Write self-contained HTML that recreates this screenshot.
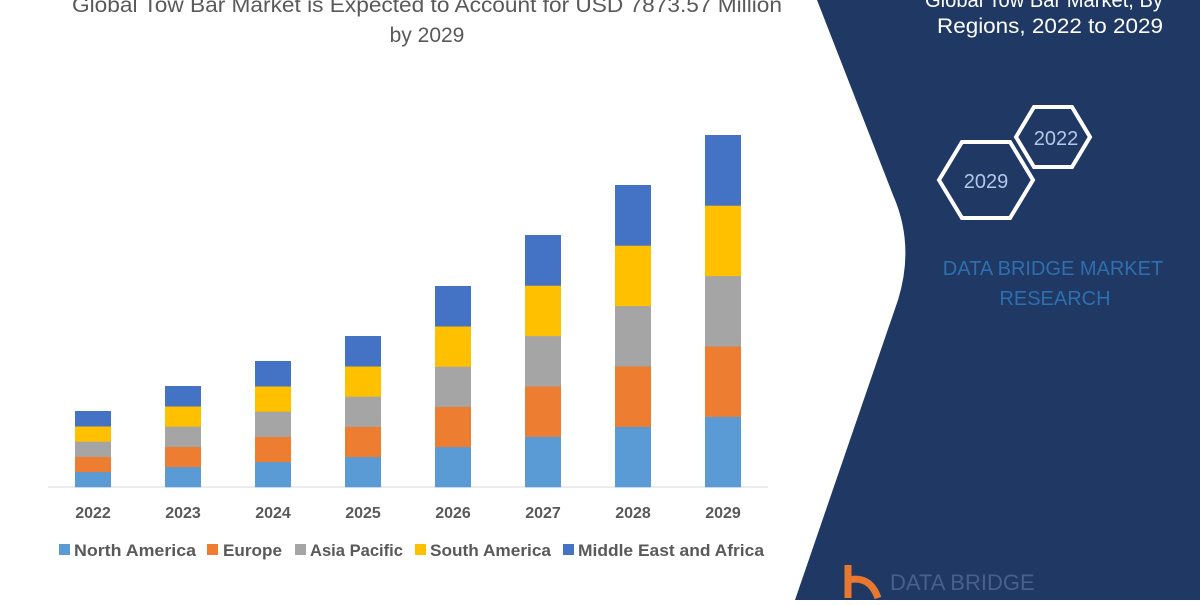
<!DOCTYPE html>
<html><head><meta charset="utf-8"><style>
body{margin:0;width:1200px;height:600px;overflow:hidden;background:#fff;font-family:"Liberation Sans",sans-serif}
</style></head><body>
<svg width="1200" height="600" xmlns="http://www.w3.org/2000/svg" font-family="Liberation Sans, sans-serif">
<rect width="1200" height="600" fill="#fff"/>
<path d="M817,0 L893,195 Q915,245 898,300 L795,600 L1200,600 L1200,0 Z" fill="#1f3864"/>
<g fill="#595959" font-size="21" text-anchor="middle">
<text x="427" y="12" textLength="710" lengthAdjust="spacingAndGlyphs">Global Tow Bar Market is Expected to Account for USD 7873.57 Million</text>
<text x="427" y="42">by 2029</text>
</g>
<g fill="#fff" font-size="21" text-anchor="end">
<text x="1163" y="7" textLength="238" lengthAdjust="spacingAndGlyphs">Global Tow Bar Market, By</text>
<text x="1163" y="33" textLength="226" lengthAdjust="spacingAndGlyphs">Regions, 2022 to 2029</text>
</g>
<polygon points="1016,137 1034,107 1072,107 1090,137 1072,167 1034,167" fill="none" stroke="#fff" stroke-width="4"/>
<polygon points="939,180 962,142 1010,142 1033,180 1010,218 962,218" fill="none" stroke="#fff" stroke-width="4"/>
<text x="1056" y="145" fill="#b4c7e7" font-size="20" text-anchor="middle">2022</text>
<text x="986" y="188" fill="#b4c7e7" font-size="20" text-anchor="middle">2029</text>
<g fill="#2e6fb0" font-size="20" text-anchor="middle">
<text x="1053" y="275">DATA BRIDGE MARKET</text>
<text x="1055" y="305">RESEARCH</text>
</g>
<text x="890" y="590" fill="#4a5f8a" font-size="22">DATA BRIDGE</text>
<path d="M848,565 L848,598 M848,580 Q870,575 878,598" stroke="#e8782f" stroke-width="7" fill="none"/>
<line x1="48" y1="487" x2="768" y2="487" stroke="#d9d9d9" stroke-width="1"/>
<g id="bars"></g>
<g fill="#595959" font-size="16" font-weight="bold" text-anchor="middle">
<text x="93" y="518">2022</text><text x="183" y="518">2023</text><text x="273" y="518">2024</text><text x="363" y="518">2025</text>
<text x="453" y="518">2026</text><text x="543" y="518">2027</text><text x="633" y="518">2028</text><text x="723" y="518">2029</text>
</g>
<g font-size="17" font-weight="bold" fill="#595959">
<rect x="59" y="544" width="11" height="11" fill="#5b9bd5"/><text x="74" y="556" textLength="122" lengthAdjust="spacingAndGlyphs">North America</text>
<rect x="207" y="544" width="11" height="11" fill="#ed7d31"/><text x="223" y="556" textLength="59" lengthAdjust="spacingAndGlyphs">Europe</text>
<rect x="295" y="544" width="11" height="11" fill="#a5a5a5"/><text x="310" y="556" textLength="93" lengthAdjust="spacingAndGlyphs">Asia Pacific</text>
<rect x="415" y="544" width="11" height="11" fill="#ffc000"/><text x="430" y="556" textLength="121" lengthAdjust="spacingAndGlyphs">South America</text>
<rect x="563" y="544" width="11" height="11" fill="#4472c4"/><text x="578" y="556" textLength="186" lengthAdjust="spacingAndGlyphs">Middle East and Africa</text>
</g>
</svg>
<script>
var tops=[411,386,361,336,286,235,185,135],cols=["#5b9bd5","#ed7d31","#a5a5a5","#ffc000","#4472c4"],g=document.getElementById("bars"),s="";
tops.forEach(function(t,i){var cx=93+90*i,h=(487-t)/5;for(var k=0;k<5;k++){s+='<rect x="'+(cx-18)+'" y="'+(487-h*(k+1))+'" width="36" height="'+(h+0.3)+'" fill="'+cols[k]+'"/>';}});
g.innerHTML=s;
</script>
</body></html>
